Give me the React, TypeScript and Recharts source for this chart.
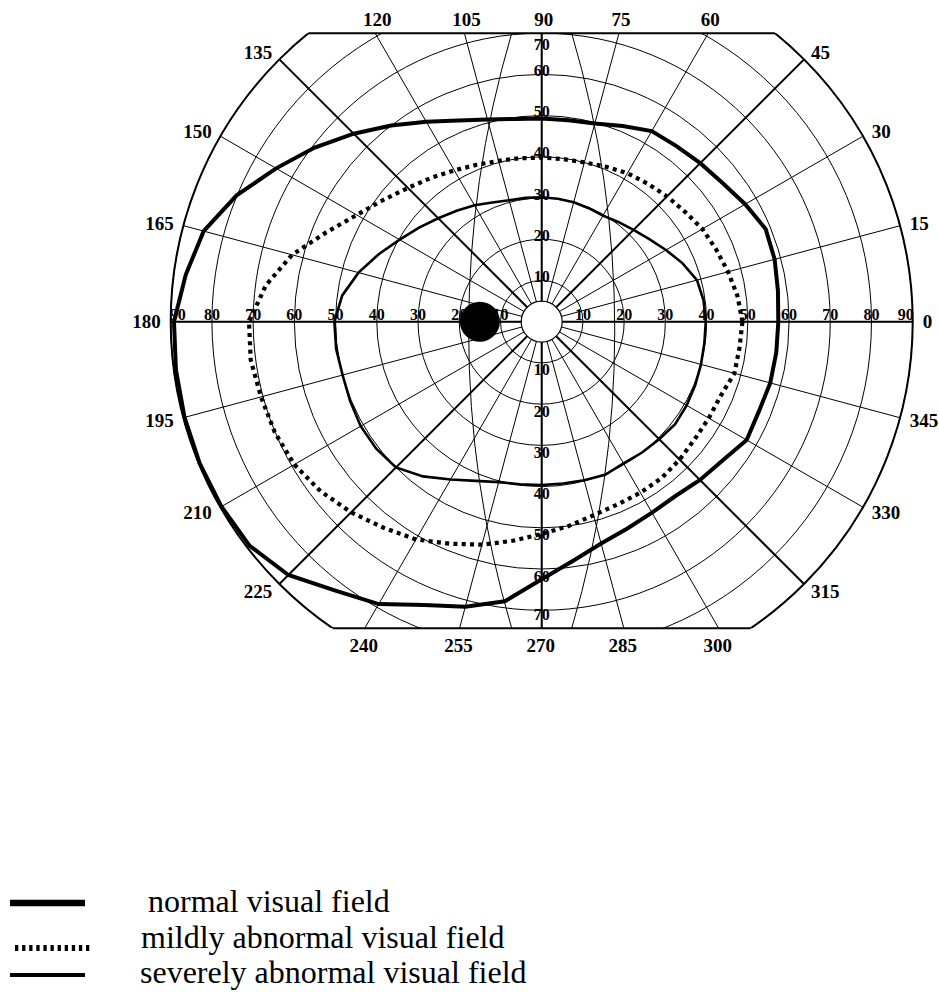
import React from 'react';
import { RadarChart, Radar, PolarGrid, PolarAngleAxis, PolarRadiusAxis, Legend } from 'recharts';

// ---------------- data ----------------
const ANGLES = [
  0, 7.5, 15, 22.5, 30, 37.5, 45, 52.5, 60, 67.5, 75, 82.5,
  90, 97.5, 105, 112.5, 120, 127.5, 135, 142.5, 150, 157.5, 165, 172.5,
  180, 187.5, 195, 202.5, 210, 217.5, 225, 232.5, 240, 247.5, 255, 262.5,
  270, 277.5, 285, 292.5, 300, 307.5, 315, 322.5, 330, 337.5, 345, 352.5,
];

const NORMAL_FIELD = [
  57.4, 57.8, 58.5, 58.8, 57.0, 55.3, 54.4, 53.7, 53.4, 51.4, 49.8, 49.3,
  49.3, 49.6, 50.8, 52.8, 56.0, 60.0, 64.5, 69.4, 74.4, 80.1, 84.9, 87.1,
  89.2, 89.5, 89.7, 89.8, 89.7, 89.3, 86.9, 82.2, 79.1, 74.4, 71.6, 68.4,
  62.5, 58.5, 55.7, 54.3, 53.5, 53.3, 54.3, 55.3, 57.4, 57.0, 57.4, 57.4,
];

const MILD_FIELD = [
  48.7, 47.9, 46.8, 45.8, 45.0, 43.8, 43.0, 42.2, 41.6, 40.7, 40.0, 39.8,
  39.8, 40.0, 40.4, 41.2, 42.4, 44.0, 45.9, 48.5, 51.8, 56.6, 62.7, 67.5,
  71.0, 71.2, 70.5, 70.1, 69.3, 67.6, 65.4, 63.0, 61.0, 58.3, 56.0, 53.6,
  51.5, 50.0, 48.6, 48.0, 47.9, 47.8, 47.3, 46.8, 46.8, 47.0, 48.4, 48.4,
];

const SEVERE_FIELD = [
  39.8, 39.6, 39.0, 37.0, 34.8, 32.9, 31.5, 30.5, 29.7, 29.8, 30.0, 30.1,
  30.2, 30.3, 30.5, 31.3, 32.6, 33.9, 35.5, 37.5, 39.8, 42.8, 46.0, 48.8,
  50.3, 50.3, 50.0, 50.3, 50.7, 50.6, 50.0, 47.3, 44.2, 41.8, 40.3, 39.8,
  39.6, 39.6, 39.8, 40.2, 39.7, 40.0, 40.3, 40.8, 40.6, 40.3, 40.0, 39.8,
];

const ANGLE_TICKS = [0, 15, 30, 45, 60, 75, 90, 105, 120, 135, 150, 165, 180, 195, 210, 225, 240, 255, 270, 285, 300, 315, 330, 345];
const MAIN_MERIDIANS = [0, 45, 90, 135, 180, 225, 270, 315];
const ECC_TICKS = [10, 20, 30, 40, 50, 60, 70, 80, 90];
const ECC_MAX = 90;
const VERTICAL_LABEL_MAX = 70;
const BLIND_SPOT = { angle: 180, ecc: 15 };

const SERIES = [
  { key: 'normal', name: 'normal visual field' },
  { key: 'mild', name: 'mildly abnormal visual field' },
  { key: 'severe', name: 'severely abnormal visual field' },
];

const chartData = ANGLES.map((angle, i) => ({
  angle,
  normal: NORMAL_FIELD[i],
  mild: MILD_FIELD[i],
  severe: SEVERE_FIELD[i],
}));

// ---------------- layout / style ----------------
const W = 931;
const H = 980;
const CX = 533.7;
const CY = 313.7;
const R = 371;
const TOP_Y = 25.3;
const BOTTOM_Y = 620.3;
const SERIF = '"Liberation Serif", "Times New Roman", Times, serif';

const LINE_STYLE: Record<string, { w: number; dash?: string }> = {
  normal: { w: 4 },
  mild: { w: 4.2, dash: '4 4.3' },
  severe: { w: 2.6 },
};

const LEGEND_ROWS: Record<string, { lx1: number; lx2: number; ly: number; lw: number; dash?: string; tx: number; ty: number }> = {
  normal: { lx1: 2, lx2: 77, ly: 23, lw: 6.5, tx: 140, ty: 32 },
  mild: { lx1: 7, lx2: 82, ly: 68, lw: 6, dash: '3.3 3.8', tx: 133, ty: 67.5 },
  severe: { lx1: 2, lx2: 77, ly: 95, lw: 4, tx: 132, ty: 103 },
};

function AngleTick(props: any) {
  const a = Number(props?.payload?.value);
  if (!isFinite(a) || Math.abs(a % 15) > 1e-6) return <g />;
  const cx = typeof props.cx === 'number' ? props.cx : CX;
  const cy = typeof props.cy === 'number' ? props.cy : CY;
  const rad = (a * Math.PI) / 180;
  const c = Math.cos(rad);
  const s = Math.sin(rad);
  const topLim = cy - TOP_Y;
  const botLim = BOTTOM_Y - cy;
  let x: number;
  let y: number;
  let anchor: 'start' | 'middle' | 'end' = 'middle';
  if (R * s > topLim) {
    const t = topLim / s;
    x = cx + t * c + 2;
    y = TOP_Y - 14;
  } else if (-R * s > botLim) {
    const t = botLim / -s;
    x = cx + t * c - 1;
    y = BOTTOM_Y + 17;
  } else {
    x = cx + (R + 10) * c;
    y = cy - (R + 10) * s;
    anchor = c > 0.01 ? 'start' : c < -0.01 ? 'end' : 'middle';
  }
  return (
    <text x={x} y={y} textAnchor={anchor} dominantBaseline="central" fill="#000"
      style={{ fontFamily: SERIF, fontWeight: 'bold', fontSize: 19 }}>
      {String(a)}
    </text>
  );
}

function RadiusTick(props: any) {
  const v = Number(props?.payload?.value);
  if (!isFinite(v) || v <= 0) return <g />;
  const cx = typeof props.cx === 'number' ? props.cx : CX;
  const cy = typeof props.cy === 'number' ? props.cy : CY;
  const r = Math.abs(Number(props.x) - cx);
  const hr = Math.min(r, R - 7);
  const st = { fontFamily: SERIF, fontWeight: 'bold' as const, fontSize: 16 };
  const out = [
    <text key="r" x={cx + hr} y={cy - 2} textAnchor="middle" fill="#000" style={st}>{v}</text>,
    <text key="l" x={cx - hr} y={cy - 2} textAnchor="middle" fill="#000" style={st}>{v}</text>,
  ];
  if (v <= VERTICAL_LABEL_MAX) {
    out.push(
      <text key="u" x={cx} y={Math.max(cy - r - 4, TOP_Y + 11)} textAnchor="middle" dominantBaseline="central" fill="#000" style={st}>{v}</text>,
    );
    out.push(
      <text key="d" x={cx} y={Math.min(cy + r + 7, BOTTOM_Y - 14)} textAnchor="middle" dominantBaseline="central" fill="#000" style={st}>{v}</text>,
    );
  }
  return <g>{out}</g>;
}

function FieldLegend(props: any) {
  const payload: any[] = props?.payload || [];
  return (
    <svg width={560} height={108} style={{ display: 'block', overflow: 'visible' }}>
      {SERIES.map((s) => {
        const p = payload.find((e) => e && e.dataKey === s.key);
        const label = p && p.value ? String(p.value) : s.name;
        const row = LEGEND_ROWS[s.key];
        return (
          <g key={s.key}>
            <line x1={row.lx1} x2={row.lx2} y1={row.ly} y2={row.ly} stroke="#000" strokeWidth={row.lw}
              strokeDasharray={row.dash} />
            <text x={row.tx} y={row.ty} fill="#000" style={{ fontFamily: SERIF, fontSize: 32 }}>{label}</text>
          </g>
        );
      })}
    </svg>
  );
}

function Overlay() {
  const halfTop = Math.sqrt(R * R - (CY - TOP_Y) ** 2);
  const halfBot = Math.sqrt(R * R - (BOTTOM_Y - CY) ** 2);
  // gentle meridian arcs of the perimetry form
  const a = 30;
  const b = 73;
  const k0 = (TOP_Y + BOTTOM_Y) / 2;
  const yA = TOP_Y - k0;
  const yB = CY - k0;
  const h = (b * b + yB * yB - a * a - yA * yA) / (2 * (b - a));
  const arcR = Math.sqrt((b - h) ** 2 + yB * yB);
  const k = R / ECC_MAX;
  const bsRad = (BLIND_SPOT.angle * Math.PI) / 180;
  const bsX = CX + Math.cos(bsRad) * BLIND_SPOT.ecc * k;
  const bsY = CY - Math.sin(bsRad) * BLIND_SPOT.ecc * k;
  return (
    <svg width={W} height={700} style={{ position: 'absolute', left: 0, top: 0, pointerEvents: 'none' }}>
      <path d={`M ${CX + a} ${TOP_Y} A ${arcR} ${arcR} 0 0 1 ${CX + a} ${BOTTOM_Y}`} fill="none" stroke="#000" strokeWidth={1} />
      <path d={`M ${CX - a} ${TOP_Y} A ${arcR} ${arcR} 0 0 0 ${CX - a} ${BOTTOM_Y}`} fill="none" stroke="#000" strokeWidth={1} />
      <line x1={CX - halfTop} x2={CX + halfTop} y1={TOP_Y} y2={TOP_Y} stroke="#000" strokeWidth={2} />
      <line x1={CX - halfBot} x2={CX + halfBot} y1={BOTTOM_Y} y2={BOTTOM_Y} stroke="#000" strokeWidth={2} />
      <circle cx={CX} cy={CY} r={20.5} fill="#fff" stroke="#000" strokeWidth={1.2} />
      <circle cx={bsX} cy={bsY} r={20} fill="#000" />
    </svg>
  );
}

export default function App() {
  return (
    <div style={{ position: 'absolute', left: 8, top: 8, width: W, height: H }}>
      <style>{`html, body { margin: 0; padding: 0; overflow: hidden; }
.vf-chart .recharts-polar-grid, .vf-chart .recharts-radar { clip-path: url(#vf-clip); }`}</style>
      <div className="vf-chart" style={{ position: 'relative', width: W, height: H }}>
        <svg width={0} height={0} style={{ position: 'absolute', left: 0, top: 0 }}>
          <defs>
            <clipPath id="vf-clip" clipPathUnits="userSpaceOnUse">
              <rect x={-10} y={TOP_Y} width={W + 20} height={BOTTOM_Y - TOP_Y} />
            </clipPath>
          </defs>
        </svg>
        <RadarChart
          width={W}
          height={H}
          data={chartData}
          cx={CX}
          cy={CY}
          innerRadius={0}
          outerRadius={R}
          startAngle={0}
          endAngle={360}
          margin={{ top: 0, right: 0, bottom: 0, left: 0 }}
        >
          <PolarGrid gridType="circle" polarAngles={ANGLE_TICKS} stroke="#000" strokeWidth={1} strokeOpacity={1} />
          <PolarGrid gridType="circle" polarAngles={MAIN_MERIDIANS} polarRadius={[R]} stroke="#000" strokeWidth={2} strokeOpacity={1} />
          <PolarAngleAxis
            dataKey="angle"
            type="number"
            domain={[0, 360]}
            ticks={ANGLE_TICKS}
            tick={AngleTick}
            axisLine={false}
            tickLine={false}
          />
          <PolarRadiusAxis
            angle={0}
            type="number"
            domain={[0, ECC_MAX]}
            ticks={ECC_TICKS}
            tickCount={10}
            tick={RadiusTick}
            axisLine={false}
            tickLine={false}
          />
          {SERIES.map((s) => (
            <Radar
              key={s.key}
              dataKey={s.key}
              name={s.name}
              stroke="#000"
              strokeWidth={LINE_STYLE[s.key].w}
              strokeDasharray={LINE_STYLE[s.key].dash}
              fill="none"
              fillOpacity={0}
              dot={false}
              isAnimationActive={false}
            />
          ))}
          <Legend
            verticalAlign="bottom"
            align="left"
            layout="vertical"
            content={FieldLegend}
            wrapperStyle={{ position: 'absolute', left: 0, top: 872, bottom: 'auto', width: 560, height: 108, margin: 0, padding: 0 }}
          />
        </RadarChart>
        <Overlay />
      </div>
    </div>
  );
}
